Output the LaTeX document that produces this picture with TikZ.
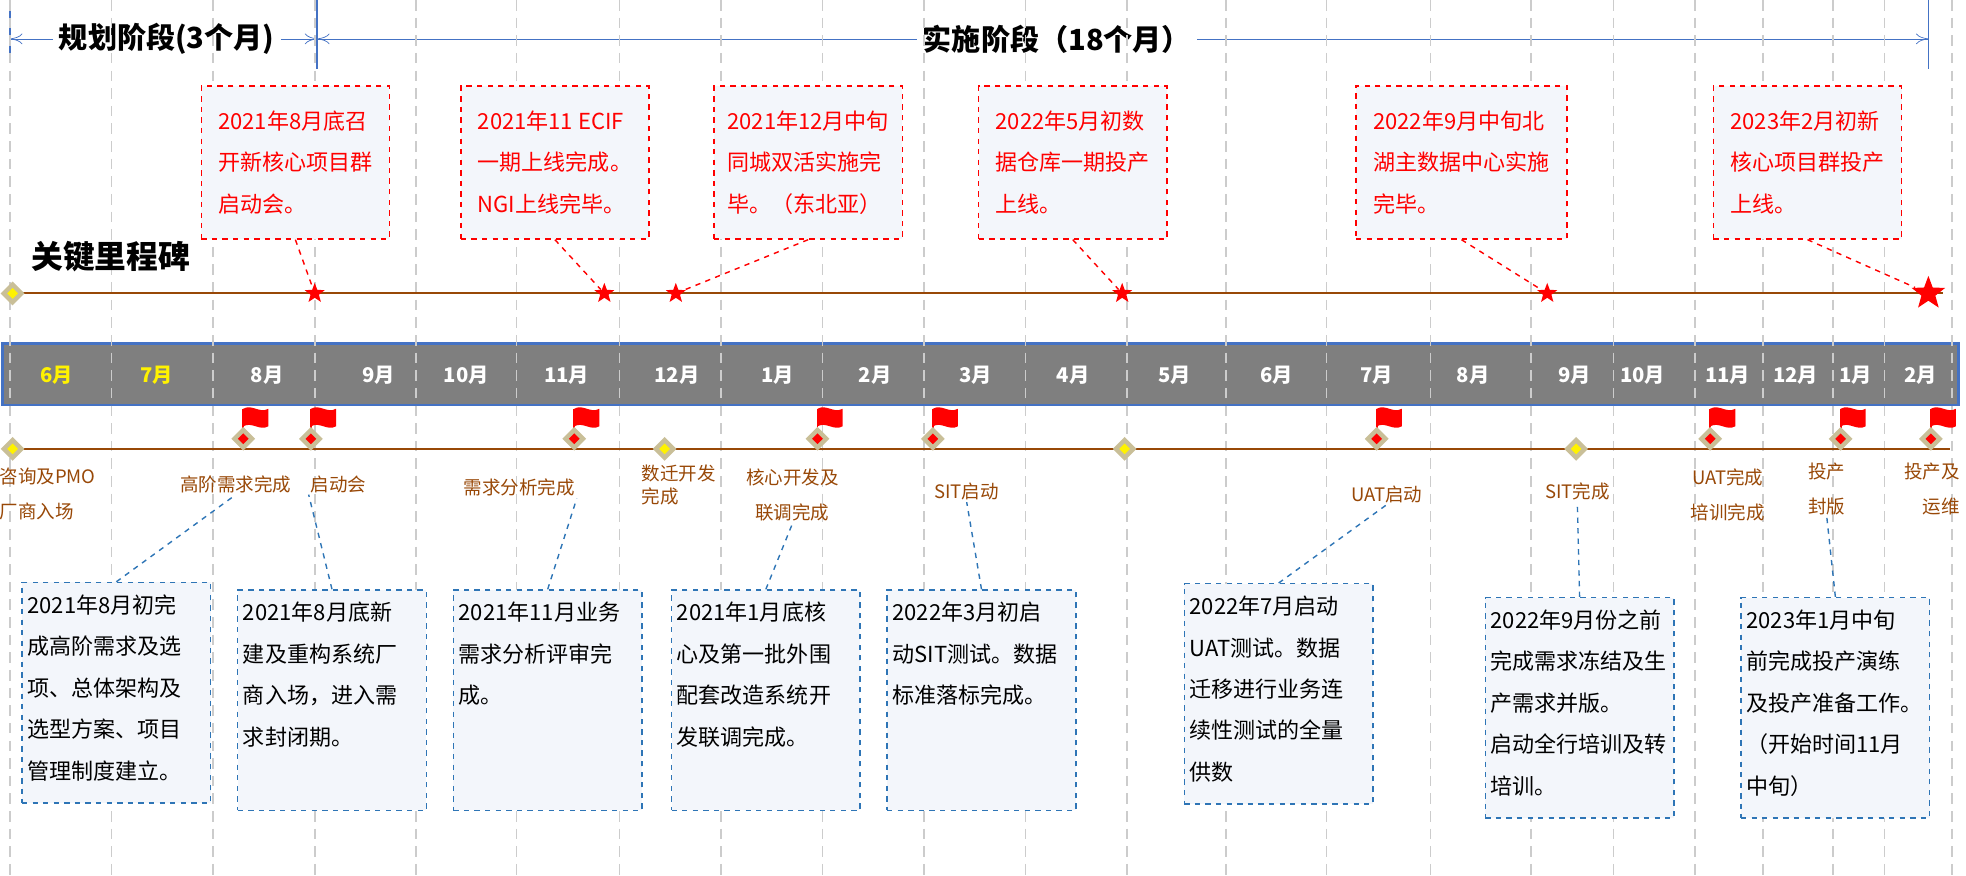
\documentclass[tikz,border=0pt]{standalone}
\usepackage{fontspec}
\setmainfont{Noto Sans CJK SC}
\usetikzlibrary{shapes.geometric,arrows.meta,positioning}

\definecolor{brn}{HTML}{984807}
\definecolor{boxfill}{HTML}{F3F6FB}
\definecolor{bandblue}{HTML}{4472C4}
\definecolor{dblue}{HTML}{2E75B6}
\definecolor{tanc}{HTML}{C9BF98}
\definecolor{bandgray}{HTML}{7F7F7F}

% top aligned text block of a plan box
\newcommand\plantext[1]{\parbox[c][3.9cm][t]{3.55cm}{#1}}

\tikzset{
	redbox/.style={draw=red, dashed, thick, fill=boxfill, text=red, align=left,
		anchor=north west, minimum width=3.75cm, minimum height=3.05cm, inner sep=3pt,
		font=\fontsize{12.5}{23.5}\selectfont},
	bluebox/.style={draw=dblue, dashed, thick, fill=boxfill, align=left,
		anchor=north west, minimum width=3.75cm, inner xsep=3pt, inner ysep=7pt,
		font=\fontsize{12.5}{23.5}\selectfont},
	lab/.style={text=brn, align=center, inner sep=1pt, font=\fontsize{10.5}{20}\selectfont},
	mstar/.style={star, star points=5, star point ratio=2.4, fill=red, inner sep=0, minimum size=0.42cm},
	tandia/.style={diamond, fill=tanc, inner sep=0, minimum size=0.48cm},
	grid/.style={gray!40, dashed, dash pattern=on 6pt off 4pt, line width=0.9pt},
	reddash/.style={red, dashed, thick},
	bluedash/.style={dblue, dashed, thick},
	% milestone marker with a flag
	flagm/.pic={
		\draw[red, line width=1pt] (0,-8) -- (0,-32);
		\fill[red] (0,-32) .. controls (7,-36) and (13,-28) .. (20,-32) -- (20,-18)
			.. controls (13,-14) and (7,-22) .. (0,-18) -- cycle;
		\node[tandia] at (0,-8) {};
		\node[diamond, fill=red, inner sep=0, minimum size=0.22cm] at (0,-8) {};
	},
	% plain milestone marker
	plainm/.pic={
		\node[tandia] at (0,0) {};
		\node[diamond, fill=yellow, inner sep=0, minimum size=0.22cm] at (0,0) {};
	}
}

\begin{document}
\begin{tikzpicture}[x=0.025cm, y=-0.025cm, >={To[length=7pt,width=6pt]}]
	\useasboundingbox (0,0) rectangle (1568,698);

	% phases on top
	\draw[bandblue, line width=1pt] (8,5) -- (8,50) (253,0) -- (253,55) (1538,0) -- (1538,55);
	\coordinate (pL) at (8,31);
	\coordinate (pR) at (253,31);
	\coordinate (iR) at (1538,31);
	\node[font=\fontsize{16.5}{20}\bfseries] (plan) at (133,31) {规划阶段(3个月)};
	\node[font=\fontsize{16.5}{20}\bfseries] (impl) at (843,31) {实施阶段（18个月）};
	\draw[bandblue, ->] (plan.west) -- (pL);
	\draw[bandblue, ->] (plan.east) -- (pR);
	\draw[bandblue, ->] (impl.west) -- (pR);
	\draw[bandblue, ->] (impl.east) -- (iR);

	% month band
	\draw[draw=bandblue, line width=1.5pt, fill=bandgray] (2,274) rectangle (1562,323);
	\foreach \x in {8,89,170,251,332,412,494,575,656,737,818,899,978,1058,1141,1221,1287,1352,1406,1462,1503,1557}
		\draw[grid] (\x,0) -- (\x,698);
	\foreach \x/\m in {45/6,125/7}
		\node[text=yellow, font=\fontsize{11.5}{14}\bfseries] at (\x,299) {\m 月};
	\foreach \x/\m in {213/8,302/9,372/10,452/11,540/12,620/1,698/2,778/3,856/4,937/5,1018/6,1098/7,1175/8,1256/9,1310/10,1378/11,1432/12,1480/1,1532/2}
		\node[text=white, font=\fontsize{11.5}{14}\bfseries] at (\x,299) {\m 月};

	% key milestones
	\node[font=\fontsize{18}{20}\bfseries, anchor=west] (title) at (20,205) {关键里程碑};
	\draw[brn, line width=1.2pt] (10,234) -- (1550,234);
	\pic at (10,234) {plainm};
	\node[mstar] (s1) at (251,234) {};
	\node[mstar] (s2) at (482,234) {};
	\node[mstar] (s3) at (539,234) {};
	\node[mstar] (s4) at (895,234) {};
	\node[mstar] (s5) at (1234,234) {};
	\node[mstar, minimum size=0.7cm] (s6) at (1538,234) {};

	\node[redbox] (r1) at (160,68) {2021年8月底召\\开新核心项目群\\启动会。};
	\node[redbox] (r2) at (367,68) {2021年11 ECIF\\一期上线完成。\\NGI上线完毕。};
	\node[redbox] (r3) at (569,68) {2021年12月中旬\\同城双活实施完\\毕。（东北亚）};
	\node[redbox] (r4) at (780,68) {2022年5月初数\\据仓库一期投产\\上线。};
	\node[redbox, minimum width=4.2cm] (r5) at (1081,68) {2022年9月中旬北\\湖主数据中心实施\\完毕。};
	\node[redbox] (r6) at (1366,68) {2023年2月初新\\核心项目群投产\\上线。};
	\foreach \i in {1,...,6}
		\draw[reddash] (r\i.south) -- (s\i);

	% work plan line
	\draw[brn, line width=1.2pt] (10,358) -- (1555,358);
	\foreach \x in {10,530,897,1257}
		\pic at (\x,358) {plainm};
	\foreach \x in {194,248,458,652,744,1098,1364,1468,1540}
		\pic at (\x,358) {flagm};

	\node[lab, align=left, anchor=west] (l1) at (-2,394) {咨询及PMO\\厂商入场};
	\node[lab] (l2) at (188,386) {高阶需求完成};
	\node[lab] (l3) at (270,386) {启动会};
	\node[lab] (l4) at (414,389) {需求分析完成};
	\node[lab, align=left, anchor=west, font=\fontsize{10.5}{13}\selectfont] (l5) at (510,387) {数迁开发\\完成};
	\node[lab] (l6) at (632,395) {核心开发及\\联调完成};
	\node[lab] (l7) at (771,392) {SIT启动};
	\node[lab] (l8) at (1106,394) {UAT启动};
	\node[lab] (l9) at (1258,392) {SIT完成};
	\node[lab] (l10) at (1378,395) {UAT完成\\培训完成};
	\node[lab] (l11) at (1457,390) {投产\\封版};
	\node[lab, align=right, anchor=west] (l12) at (1517,390) {投产及\\\ \ 运维};

	\node[bluebox] (b1) at (17,464) {\plantext{2021年8月初完\\成高阶需求及选\\项、总体架构及\\选型方案、项目\\管理制度建立。}};
	\node[bluebox] (b2) at (189,470) {\plantext{2021年8月底新\\建及重构系统厂\\商入场，进入需\\求封闭期。}};
	\node[bluebox] (b3) at (361,470) {\plantext{2021年11月业务\\需求分析评审完\\成。}};
	\node[bluebox] (b4) at (535,470) {\plantext{2021年1月底核\\心及第一批外围\\配套改造系统开\\发联调完成。}};
	\node[bluebox] (b5) at (707,470) {\plantext{2022年3月初启\\动SIT测试。数据\\标准落标完成。}};
	\node[bluebox] (b6) at (944,465) {\plantext{2022年7月启动\\UAT测试。数据\\迁移进行业务连\\续性测试的全量\\供数}};
	\node[bluebox] (b7) at (1184,476) {\plantext{2022年9月份之前\\完成需求冻结及生\\产需求并版。\\启动全行培训及转\\培训。}};
	\node[bluebox] (b8) at (1388,476) {\plantext{2023年1月中旬\\前完成投产演练\\及投产准备工作。\\（开始时间11月\\中旬）}};

	\draw[bluedash] (b1.north) -- (l2.south);
	\draw[bluedash] (b2.north) -- (l3.south west);
	\draw[bluedash] (b3.north) -- (l4.south east);
	\draw[bluedash] (b4.north) -- (l6.south);
	\draw[bluedash] (b5.north) -- (l7.south);
	\draw[bluedash] (b6.north) -- (l8.south);
	\draw[bluedash] (b7.north) -- (l9.south);
	\draw[bluedash] (b8.north) -- (l11.south);
\end{tikzpicture}
\end{document}
